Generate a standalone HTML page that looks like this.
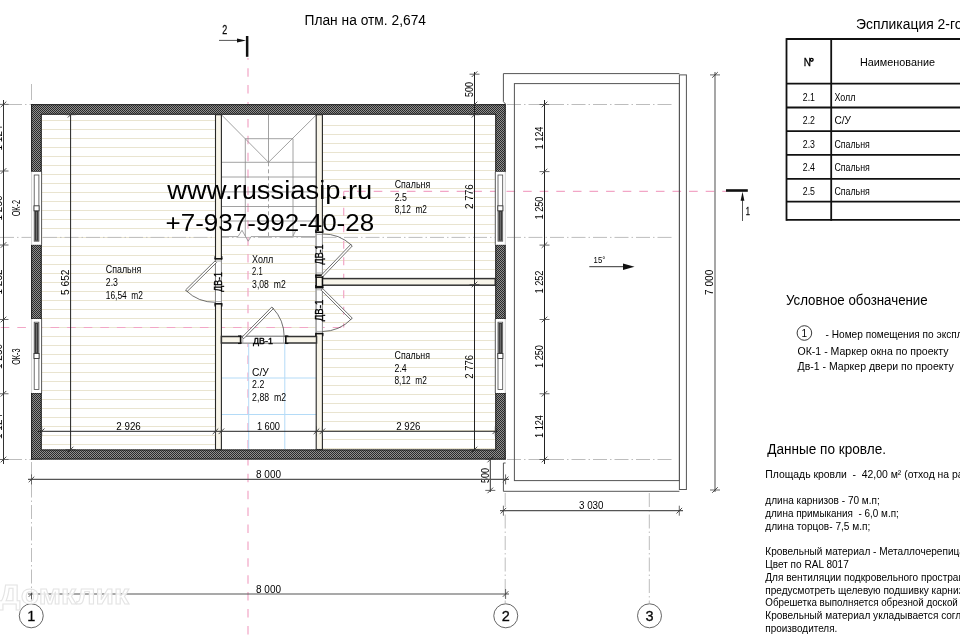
<!DOCTYPE html><html><head><meta charset="utf-8"><style>html,body{margin:0;padding:0;background:#fff;overflow:hidden}svg{display:block;will-change:transform}text{font-family:"Liberation Sans",sans-serif;white-space:pre}</style></head><body>
<svg width="960" height="640" viewBox="0 0 960 640" fill="#000">
<defs><pattern id="hatch" x="0" y="0" width="2" height="2" patternUnits="userSpaceOnUse"><rect width="2" height="2" fill="#8e8e8e"/><rect width="1" height="1" fill="#2a2a2a"/><rect x="1" y="1" width="1" height="1" fill="#2a2a2a"/></pattern></defs>
<rect width="960" height="640" fill="#fff"/>
<line x1="41.7" y1="120.5" x2="215.5" y2="120.5" stroke="#e9e4d0" stroke-width="1"/>
<line x1="41.7" y1="129.5" x2="215.5" y2="129.5" stroke="#e9e4d0" stroke-width="1"/>
<line x1="41.7" y1="138.5" x2="215.5" y2="138.5" stroke="#e9e4d0" stroke-width="1"/>
<line x1="41.7" y1="147.5" x2="215.5" y2="147.5" stroke="#e9e4d0" stroke-width="1"/>
<line x1="41.7" y1="156.5" x2="215.5" y2="156.5" stroke="#e9e4d0" stroke-width="1"/>
<line x1="41.7" y1="165.5" x2="215.5" y2="165.5" stroke="#e9e4d0" stroke-width="1"/>
<line x1="41.7" y1="174.5" x2="215.5" y2="174.5" stroke="#e9e4d0" stroke-width="1"/>
<line x1="41.7" y1="183.5" x2="215.5" y2="183.5" stroke="#e9e4d0" stroke-width="1"/>
<line x1="41.7" y1="192.5" x2="215.5" y2="192.5" stroke="#e9e4d0" stroke-width="1"/>
<line x1="41.7" y1="201.5" x2="215.5" y2="201.5" stroke="#e9e4d0" stroke-width="1"/>
<line x1="41.7" y1="210.5" x2="215.5" y2="210.5" stroke="#e9e4d0" stroke-width="1"/>
<line x1="41.7" y1="219.5" x2="215.5" y2="219.5" stroke="#e9e4d0" stroke-width="1"/>
<line x1="41.7" y1="228.5" x2="215.5" y2="228.5" stroke="#e9e4d0" stroke-width="1"/>
<line x1="41.7" y1="237.5" x2="215.5" y2="237.5" stroke="#e9e4d0" stroke-width="1"/>
<line x1="41.7" y1="246.5" x2="215.5" y2="246.5" stroke="#e9e4d0" stroke-width="1"/>
<line x1="41.7" y1="255.5" x2="215.5" y2="255.5" stroke="#e9e4d0" stroke-width="1"/>
<line x1="41.7" y1="264.5" x2="215.5" y2="264.5" stroke="#e9e4d0" stroke-width="1"/>
<line x1="41.7" y1="273.5" x2="215.5" y2="273.5" stroke="#e9e4d0" stroke-width="1"/>
<line x1="41.7" y1="282.5" x2="215.5" y2="282.5" stroke="#e9e4d0" stroke-width="1"/>
<line x1="41.7" y1="291.5" x2="215.5" y2="291.5" stroke="#e9e4d0" stroke-width="1"/>
<line x1="41.7" y1="300.5" x2="215.5" y2="300.5" stroke="#e9e4d0" stroke-width="1"/>
<line x1="41.7" y1="309.5" x2="215.5" y2="309.5" stroke="#e9e4d0" stroke-width="1"/>
<line x1="41.7" y1="318.5" x2="215.5" y2="318.5" stroke="#e9e4d0" stroke-width="1"/>
<line x1="41.7" y1="327.5" x2="215.5" y2="327.5" stroke="#e9e4d0" stroke-width="1"/>
<line x1="41.7" y1="336.5" x2="215.5" y2="336.5" stroke="#e9e4d0" stroke-width="1"/>
<line x1="41.7" y1="345.5" x2="215.5" y2="345.5" stroke="#e9e4d0" stroke-width="1"/>
<line x1="41.7" y1="354.5" x2="215.5" y2="354.5" stroke="#e9e4d0" stroke-width="1"/>
<line x1="41.7" y1="363.5" x2="215.5" y2="363.5" stroke="#e9e4d0" stroke-width="1"/>
<line x1="41.7" y1="372.5" x2="215.5" y2="372.5" stroke="#e9e4d0" stroke-width="1"/>
<line x1="41.7" y1="381.5" x2="215.5" y2="381.5" stroke="#e9e4d0" stroke-width="1"/>
<line x1="41.7" y1="390.5" x2="215.5" y2="390.5" stroke="#e9e4d0" stroke-width="1"/>
<line x1="41.7" y1="399.5" x2="215.5" y2="399.5" stroke="#e9e4d0" stroke-width="1"/>
<line x1="41.7" y1="408.5" x2="215.5" y2="408.5" stroke="#e9e4d0" stroke-width="1"/>
<line x1="41.7" y1="417.5" x2="215.5" y2="417.5" stroke="#e9e4d0" stroke-width="1"/>
<line x1="41.7" y1="426.5" x2="215.5" y2="426.5" stroke="#e9e4d0" stroke-width="1"/>
<line x1="41.7" y1="435.5" x2="215.5" y2="435.5" stroke="#e9e4d0" stroke-width="1"/>
<line x1="41.7" y1="444.5" x2="215.5" y2="444.5" stroke="#e9e4d0" stroke-width="1"/>
<line x1="221.4" y1="245.5" x2="316.2" y2="245.5" stroke="#e9e4d0" stroke-width="1"/>
<line x1="221.4" y1="254.5" x2="316.2" y2="254.5" stroke="#e9e4d0" stroke-width="1"/>
<line x1="221.4" y1="263.5" x2="316.2" y2="263.5" stroke="#e9e4d0" stroke-width="1"/>
<line x1="221.4" y1="273.5" x2="316.2" y2="273.5" stroke="#e9e4d0" stroke-width="1"/>
<line x1="221.4" y1="282.5" x2="316.2" y2="282.5" stroke="#e9e4d0" stroke-width="1"/>
<line x1="221.4" y1="291.5" x2="316.2" y2="291.5" stroke="#e9e4d0" stroke-width="1"/>
<line x1="221.4" y1="300.5" x2="316.2" y2="300.5" stroke="#e9e4d0" stroke-width="1"/>
<line x1="221.4" y1="309.5" x2="316.2" y2="309.5" stroke="#e9e4d0" stroke-width="1"/>
<line x1="221.4" y1="318.5" x2="316.2" y2="318.5" stroke="#e9e4d0" stroke-width="1"/>
<line x1="221.4" y1="327.5" x2="316.2" y2="327.5" stroke="#e9e4d0" stroke-width="1"/>
<line x1="221.4" y1="336.5" x2="316.2" y2="336.5" stroke="#e9e4d0" stroke-width="1"/>
<line x1="322.4" y1="125.5" x2="495.3" y2="125.5" stroke="#e9e4d0" stroke-width="1"/>
<line x1="322.4" y1="134.5" x2="495.3" y2="134.5" stroke="#e9e4d0" stroke-width="1"/>
<line x1="322.4" y1="143.5" x2="495.3" y2="143.5" stroke="#e9e4d0" stroke-width="1"/>
<line x1="322.4" y1="152.5" x2="495.3" y2="152.5" stroke="#e9e4d0" stroke-width="1"/>
<line x1="322.4" y1="161.5" x2="495.3" y2="161.5" stroke="#e9e4d0" stroke-width="1"/>
<line x1="322.4" y1="170.5" x2="495.3" y2="170.5" stroke="#e9e4d0" stroke-width="1"/>
<line x1="322.4" y1="179.5" x2="495.3" y2="179.5" stroke="#e9e4d0" stroke-width="1"/>
<line x1="322.4" y1="188.5" x2="495.3" y2="188.5" stroke="#e9e4d0" stroke-width="1"/>
<line x1="322.4" y1="197.5" x2="495.3" y2="197.5" stroke="#e9e4d0" stroke-width="1"/>
<line x1="322.4" y1="206.5" x2="495.3" y2="206.5" stroke="#e9e4d0" stroke-width="1"/>
<line x1="322.4" y1="215.5" x2="495.3" y2="215.5" stroke="#e9e4d0" stroke-width="1"/>
<line x1="322.4" y1="224.5" x2="495.3" y2="224.5" stroke="#e9e4d0" stroke-width="1"/>
<line x1="322.4" y1="233.5" x2="495.3" y2="233.5" stroke="#e9e4d0" stroke-width="1"/>
<line x1="322.4" y1="242.5" x2="495.3" y2="242.5" stroke="#e9e4d0" stroke-width="1"/>
<line x1="322.4" y1="251.5" x2="495.3" y2="251.5" stroke="#e9e4d0" stroke-width="1"/>
<line x1="322.4" y1="260.5" x2="495.3" y2="260.5" stroke="#e9e4d0" stroke-width="1"/>
<line x1="322.4" y1="269.5" x2="495.3" y2="269.5" stroke="#e9e4d0" stroke-width="1"/>
<line x1="322.4" y1="295.5" x2="495.3" y2="295.5" stroke="#e9e4d0" stroke-width="1"/>
<line x1="322.4" y1="304.5" x2="495.3" y2="304.5" stroke="#e9e4d0" stroke-width="1"/>
<line x1="322.4" y1="313.5" x2="495.3" y2="313.5" stroke="#e9e4d0" stroke-width="1"/>
<line x1="322.4" y1="322.5" x2="495.3" y2="322.5" stroke="#e9e4d0" stroke-width="1"/>
<line x1="322.4" y1="331.5" x2="495.3" y2="331.5" stroke="#e9e4d0" stroke-width="1"/>
<line x1="322.4" y1="340.5" x2="495.3" y2="340.5" stroke="#e9e4d0" stroke-width="1"/>
<line x1="322.4" y1="349.5" x2="495.3" y2="349.5" stroke="#e9e4d0" stroke-width="1"/>
<line x1="322.4" y1="358.5" x2="495.3" y2="358.5" stroke="#e9e4d0" stroke-width="1"/>
<line x1="322.4" y1="367.5" x2="495.3" y2="367.5" stroke="#e9e4d0" stroke-width="1"/>
<line x1="322.4" y1="376.5" x2="495.3" y2="376.5" stroke="#e9e4d0" stroke-width="1"/>
<line x1="322.4" y1="385.5" x2="495.3" y2="385.5" stroke="#e9e4d0" stroke-width="1"/>
<line x1="322.4" y1="394.5" x2="495.3" y2="394.5" stroke="#e9e4d0" stroke-width="1"/>
<line x1="322.4" y1="403.5" x2="495.3" y2="403.5" stroke="#e9e4d0" stroke-width="1"/>
<line x1="322.4" y1="412.5" x2="495.3" y2="412.5" stroke="#e9e4d0" stroke-width="1"/>
<line x1="322.4" y1="421.5" x2="495.3" y2="421.5" stroke="#e9e4d0" stroke-width="1"/>
<line x1="322.4" y1="430.5" x2="495.3" y2="430.5" stroke="#e9e4d0" stroke-width="1"/>
<line x1="322.4" y1="439.5" x2="495.3" y2="439.5" stroke="#e9e4d0" stroke-width="1"/>
<line x1="322.4" y1="448.5" x2="495.3" y2="448.5" stroke="#e9e4d0" stroke-width="1"/>
<rect x="221.4" y="114.7" width="95.1" height="121.7" fill="#fff" stroke="none" stroke-width="1" />
<rect x="221.4" y="343" width="95.1" height="106.5" fill="#fff" stroke="none" stroke-width="1" />
<line x1="0" y1="237.4" x2="500" y2="237.4" stroke="#bdbdbd" stroke-width="1" stroke-dasharray="14 3 1.5 3"/>
<line x1="507" y1="237.4" x2="673" y2="237.4" stroke="#bdbdbd" stroke-width="1" stroke-dasharray="14 3 1.5 3"/>
<line x1="8" y1="104.5" x2="31" y2="104.5" stroke="#bdbdbd" stroke-width="1" stroke-dasharray="14 3 1.5 3"/>
<line x1="507" y1="104.5" x2="673" y2="104.5" stroke="#bdbdbd" stroke-width="1" stroke-dasharray="14 3 1.5 3"/>
<line x1="8" y1="459.5" x2="31" y2="459.5" stroke="#bdbdbd" stroke-width="1" stroke-dasharray="14 3 1.5 3"/>
<line x1="507" y1="459.5" x2="673" y2="459.5" stroke="#bdbdbd" stroke-width="1" stroke-dasharray="14 3 1.5 3"/>
<line x1="31.5" y1="84" x2="31.5" y2="100" stroke="#bdbdbd" stroke-width="1" />
<line x1="31.5" y1="462" x2="31.5" y2="603" stroke="#bdbdbd" stroke-width="1" stroke-dasharray="14 3 1.5 3"/>
<line x1="505.2" y1="493" x2="505.2" y2="603" stroke="#bdbdbd" stroke-width="1" stroke-dasharray="14 3 1.5 3"/>
<line x1="649.3" y1="493" x2="649.3" y2="603" stroke="#bdbdbd" stroke-width="1" stroke-dasharray="14 3 1.5 3"/>
<line x1="248" y1="58" x2="248" y2="640" stroke="#f2a6c6" stroke-width="1.2" stroke-dasharray="8.5 8.4" stroke-dashoffset="6.7"/>
<line x1="0" y1="327.5" x2="344" y2="327.5" stroke="#f2a6c6" stroke-width="1.2" stroke-dasharray="8.6 8" stroke-dashoffset="15.9"/>
<line x1="343.7" y1="191.3" x2="343.7" y2="327.5" stroke="#f2a6c6" stroke-width="1.2" stroke-dasharray="8 8.5"/>
<line x1="344" y1="191.3" x2="726" y2="191.3" stroke="#f2a6c6" stroke-width="1.2" stroke-dasharray="8.6 8" stroke-dashoffset="3.5"/>
<line x1="221.4" y1="114.7" x2="268.5" y2="162.3" stroke="#8a8a8a" stroke-width="0.8" />
<line x1="316.5" y1="114.7" x2="268.5" y2="162.3" stroke="#8a8a8a" stroke-width="0.8" />
<line x1="268.5" y1="114.7" x2="268.5" y2="162.3" stroke="#8a8a8a" stroke-width="0.8" />
<line x1="245.3" y1="138.7" x2="293" y2="138.7" stroke="#8a8a8a" stroke-width="0.8" />
<line x1="245.3" y1="138.7" x2="245.3" y2="236" stroke="#8a8a8a" stroke-width="0.8" />
<line x1="293" y1="138.7" x2="293" y2="236" stroke="#8a8a8a" stroke-width="0.8" />
<line x1="268.5" y1="162.3" x2="268.5" y2="236" stroke="#8a8a8a" stroke-width="0.8" stroke-dasharray="4 3"/>
<line x1="221.4" y1="162.3" x2="316.5" y2="162.3" stroke="#8a8a8a" stroke-width="0.8" />
<line x1="221.4" y1="177" x2="316.5" y2="177" stroke="#8a8a8a" stroke-width="0.8" />
<line x1="221.4" y1="191.9" x2="316.5" y2="191.9" stroke="#8a8a8a" stroke-width="0.8" />
<line x1="221.4" y1="206.5" x2="316.5" y2="206.5" stroke="#8a8a8a" stroke-width="0.8" />
<line x1="221.4" y1="221" x2="316.5" y2="221" stroke="#8a8a8a" stroke-width="0.8" />
<path d="M221.4 236.6 L238 236.6 L242 230.3 L248.2 241.2 L251 236.6 L316.2 236.6" fill="none" stroke="#8a8a8a" stroke-width="0.8"/>
<path d="M290.3 230.5 L295.7 230.5 L293 236" fill="none" stroke="#8a8a8a" stroke-width="0.8"/>
<line x1="248.7" y1="343" x2="248.7" y2="449.5" stroke="#b4dbf7" stroke-width="1" />
<line x1="284.8" y1="343" x2="284.8" y2="449.5" stroke="#b4dbf7" stroke-width="1" />
<line x1="221.4" y1="378" x2="316.5" y2="378" stroke="#b4dbf7" stroke-width="1" />
<line x1="221.4" y1="414.5" x2="316.5" y2="414.5" stroke="#b4dbf7" stroke-width="1" />
<rect x="215.5" y="114.7" width="5.9" height="334.8" fill="#f8f5ea" stroke="#262626" stroke-width="1.1" />
<rect x="316.2" y="114.7" width="6.2" height="334.8" fill="#f8f5ea" stroke="#262626" stroke-width="1.1" />
<rect x="322.4" y="278.6" width="172.9" height="6.6" fill="#f8f5ea" stroke="#333" stroke-width="1.5" />
<rect x="221.4" y="336.5" width="95.1" height="6.5" fill="#f8f5ea" stroke="#333" stroke-width="1.5" />
<rect x="31.1" y="104.2" width="474.5" height="10.5" fill="url(#hatch)" stroke="none" stroke-width="1" />
<rect x="31.1" y="449.5" width="474.5" height="10" fill="url(#hatch)" stroke="none" stroke-width="1" />
<rect x="31.1" y="104.2" width="10.6" height="67.8" fill="url(#hatch)" stroke="none" stroke-width="1" />
<rect x="495.3" y="104.2" width="10.3" height="67.8" fill="url(#hatch)" stroke="none" stroke-width="1" />
<rect x="31.1" y="244.8" width="10.6" height="74.19999999999999" fill="url(#hatch)" stroke="none" stroke-width="1" />
<rect x="495.3" y="244.8" width="10.3" height="74.19999999999999" fill="url(#hatch)" stroke="none" stroke-width="1" />
<rect x="31.1" y="393" width="10.6" height="66.5" fill="url(#hatch)" stroke="none" stroke-width="1" />
<rect x="495.3" y="393" width="10.3" height="66.5" fill="url(#hatch)" stroke="none" stroke-width="1" />
<line x1="31.1" y1="104.7" x2="505.6" y2="104.7" stroke="#1e1e1e" stroke-width="1" />
<line x1="31.1" y1="459.0" x2="505.6" y2="459.0" stroke="#1e1e1e" stroke-width="1" />
<line x1="41.2" y1="114.2" x2="495.8" y2="114.2" stroke="#1e1e1e" stroke-width="1" />
<line x1="41.2" y1="450.0" x2="495.8" y2="450.0" stroke="#1e1e1e" stroke-width="1" />
<line x1="31.6" y1="104.2" x2="31.6" y2="171.8" stroke="#1e1e1e" stroke-width="1" />
<line x1="41.2" y1="114.2" x2="41.2" y2="171.8" stroke="#1e1e1e" stroke-width="1" />
<line x1="505.1" y1="104.2" x2="505.1" y2="171.8" stroke="#1e1e1e" stroke-width="1" />
<line x1="495.8" y1="114.2" x2="495.8" y2="171.8" stroke="#1e1e1e" stroke-width="1" />
<line x1="31.6" y1="244.8" x2="31.6" y2="319" stroke="#1e1e1e" stroke-width="1" />
<line x1="41.2" y1="244.8" x2="41.2" y2="319" stroke="#1e1e1e" stroke-width="1" />
<line x1="505.1" y1="244.8" x2="505.1" y2="319" stroke="#1e1e1e" stroke-width="1" />
<line x1="495.8" y1="244.8" x2="495.8" y2="319" stroke="#1e1e1e" stroke-width="1" />
<line x1="31.6" y1="393" x2="31.6" y2="459.5" stroke="#1e1e1e" stroke-width="1" />
<line x1="41.2" y1="393" x2="41.2" y2="450" stroke="#1e1e1e" stroke-width="1" />
<line x1="505.1" y1="393" x2="505.1" y2="459.5" stroke="#1e1e1e" stroke-width="1" />
<line x1="495.8" y1="393" x2="495.8" y2="450" stroke="#1e1e1e" stroke-width="1" />
<line x1="31.1" y1="171.8" x2="41.7" y2="171.8" stroke="#1e1e1e" stroke-width="1" />
<line x1="495.3" y1="171.8" x2="505.6" y2="171.8" stroke="#1e1e1e" stroke-width="1" />
<line x1="31.1" y1="244.8" x2="41.7" y2="244.8" stroke="#1e1e1e" stroke-width="1" />
<line x1="495.3" y1="244.8" x2="505.6" y2="244.8" stroke="#1e1e1e" stroke-width="1" />
<line x1="31.1" y1="319" x2="41.7" y2="319" stroke="#1e1e1e" stroke-width="1" />
<line x1="495.3" y1="319" x2="505.6" y2="319" stroke="#1e1e1e" stroke-width="1" />
<line x1="31.1" y1="393" x2="41.7" y2="393" stroke="#1e1e1e" stroke-width="1" />
<line x1="495.3" y1="393" x2="505.6" y2="393" stroke="#1e1e1e" stroke-width="1" />
<rect x="31.3" y="171.8" width="10.3" height="73.0" fill="#fff" stroke="none" stroke-width="1" />
<line x1="31.6" y1="171.8" x2="31.6" y2="244.8" stroke="#c4c4c4" stroke-width="0.8" />
<line x1="41.6" y1="171.8" x2="41.6" y2="244.8" stroke="#555" stroke-width="1" />
<rect x="34.2" y="175.0" width="4.699999999999996" height="66.2" fill="none" stroke="#4a4a4a" stroke-width="0.8" />
<rect x="34.6" y="210.8" width="3.899999999999996" height="30.0" fill="#3a3a3a" stroke="none" stroke-width="1" />
<line x1="36.55" y1="211.8" x2="36.55" y2="239.8" stroke="#8a8a8a" stroke-width="0.7" />
<rect x="34.0" y="205.8" width="5.099999999999996" height="5" fill="#fff" stroke="#333" stroke-width="0.9" />
<rect x="31.3" y="319" width="10.3" height="74" fill="#fff" stroke="none" stroke-width="1" />
<line x1="31.6" y1="319" x2="31.6" y2="393" stroke="#c4c4c4" stroke-width="0.8" />
<line x1="41.6" y1="319" x2="41.6" y2="393" stroke="#555" stroke-width="1" />
<rect x="34.2" y="322.2" width="4.699999999999996" height="67.2" fill="none" stroke="#4a4a4a" stroke-width="0.8" />
<rect x="34.6" y="323" width="3.899999999999996" height="30.5" fill="#3a3a3a" stroke="none" stroke-width="1" />
<line x1="36.55" y1="324" x2="36.55" y2="352.5" stroke="#8a8a8a" stroke-width="0.7" />
<rect x="34.0" y="353.5" width="5.099999999999996" height="5" fill="#fff" stroke="#333" stroke-width="0.9" />
<rect x="495.3" y="171.8" width="10.300000000000011" height="73.0" fill="#fff" stroke="none" stroke-width="1" />
<line x1="505.3" y1="171.8" x2="505.3" y2="244.8" stroke="#c4c4c4" stroke-width="0.8" />
<line x1="495.3" y1="171.8" x2="495.3" y2="244.8" stroke="#555" stroke-width="1" />
<rect x="498.0" y="175.0" width="4.7000000000000455" height="66.2" fill="none" stroke="#4a4a4a" stroke-width="0.8" />
<rect x="498.4" y="210.8" width="3.9000000000000457" height="30.0" fill="#3a3a3a" stroke="none" stroke-width="1" />
<line x1="500.35" y1="211.8" x2="500.35" y2="239.8" stroke="#8a8a8a" stroke-width="0.7" />
<rect x="497.8" y="205.8" width="5.100000000000046" height="5" fill="#fff" stroke="#333" stroke-width="0.9" />
<rect x="495.3" y="319" width="10.300000000000011" height="74" fill="#fff" stroke="none" stroke-width="1" />
<line x1="505.3" y1="319" x2="505.3" y2="393" stroke="#c4c4c4" stroke-width="0.8" />
<line x1="495.3" y1="319" x2="495.3" y2="393" stroke="#555" stroke-width="1" />
<rect x="498.0" y="322.2" width="4.7000000000000455" height="67.2" fill="none" stroke="#4a4a4a" stroke-width="0.8" />
<rect x="498.4" y="323" width="3.9000000000000457" height="30.5" fill="#3a3a3a" stroke="none" stroke-width="1" />
<line x1="500.35" y1="324" x2="500.35" y2="352.5" stroke="#8a8a8a" stroke-width="0.7" />
<rect x="497.8" y="353.5" width="5.100000000000046" height="5" fill="#fff" stroke="#333" stroke-width="0.9" />
<rect x="214.9" y="259.8" width="7.1" height="43.2" fill="#fff" stroke="none" stroke-width="1" />
<line x1="215.5" y1="259.8" x2="215.5" y2="303" stroke="#777" stroke-width="0.9" />
<line x1="221.4" y1="259.8" x2="221.4" y2="303" stroke="#777" stroke-width="0.9" />
<rect x="214.6" y="258.0" width="7.7000000000000055" height="1.6" fill="#111" stroke="none" stroke-width="1" />
<line x1="215.0" y1="256.2" x2="215.0" y2="259.2" stroke="#111" stroke-width="1.1" />
<line x1="221.9" y1="256.2" x2="221.9" y2="259.2" stroke="#111" stroke-width="1.1" />
<line x1="215.5" y1="261.0" x2="221.4" y2="261.0" stroke="#9a9a9a" stroke-width="0.8" />
<rect x="214.6" y="303.0" width="7.7000000000000055" height="1.6" fill="#111" stroke="none" stroke-width="1" />
<line x1="215.0" y1="306.40000000000003" x2="215.0" y2="303.40000000000003" stroke="#111" stroke-width="1.1" />
<line x1="221.9" y1="306.40000000000003" x2="221.9" y2="303.40000000000003" stroke="#111" stroke-width="1.1" />
<line x1="215.5" y1="301.6" x2="221.4" y2="301.6" stroke="#9a9a9a" stroke-width="0.8" />
<path d="M215.03 260.92 L185.53 290.02 L187.07 291.58 L216.57 262.48 Z" fill="#fff" stroke="#333" stroke-width="0.7"/>
<path d="M186.3 290.8 A41.4 41.4 0 0 0 215.3 302.3" fill="none" stroke="#333" stroke-width="0.7"/>
<text x="221.9" y="291.8" font-size="10" textLength="19.6" lengthAdjust="spacingAndGlyphs" transform="rotate(-90 221.9 291.8)" stroke="#000" stroke-width="0.35">ДВ-1</text>
<rect x="315.6" y="233" width="7.4" height="41.3" fill="#fff" stroke="none" stroke-width="1" />
<line x1="316.2" y1="233" x2="316.2" y2="274.3" stroke="#888" stroke-width="1" />
<line x1="322.4" y1="233" x2="322.4" y2="274.3" stroke="#888" stroke-width="1" />
<rect x="315.3" y="231.39999999999998" width="7.9999999999999885" height="1.6" fill="#111" stroke="none" stroke-width="1" />
<line x1="315.7" y1="229.6" x2="315.7" y2="232.6" stroke="#111" stroke-width="1.1" />
<line x1="322.9" y1="229.6" x2="322.9" y2="232.6" stroke="#111" stroke-width="1.1" />
<line x1="316.2" y1="234.39999999999998" x2="322.4" y2="234.39999999999998" stroke="#9a9a9a" stroke-width="0.8" />
<rect x="315.3" y="274.4" width="7.9999999999999885" height="1.6" fill="#111" stroke="none" stroke-width="1" />
<line x1="315.7" y1="277.8" x2="315.7" y2="274.8" stroke="#111" stroke-width="1.1" />
<line x1="322.9" y1="277.8" x2="322.9" y2="274.8" stroke="#111" stroke-width="1.1" />
<line x1="316.2" y1="273.0" x2="322.4" y2="273.0" stroke="#9a9a9a" stroke-width="0.8" />
<path d="M322.79 276.76 L352.29 245.96 L350.71 244.44 L321.21 275.24 Z" fill="#fff" stroke="#333" stroke-width="0.7"/>
<path d="M351.5 245.2 A41.5 41.5 0 0 0 322.4 234" fill="none" stroke="#333" stroke-width="0.7"/>
<text x="323.2" y="264.4" font-size="10" textLength="20" lengthAdjust="spacingAndGlyphs" transform="rotate(-90 323.2 264.4)" stroke="#000" stroke-width="0.35">ДВ-1</text>
<rect x="316.2" y="277.2" width="6.2" height="9.4" fill="#f8f5ea" stroke="#111" stroke-width="1.4" />
<rect x="315.6" y="288" width="7.4" height="45" fill="#fff" stroke="none" stroke-width="1" />
<line x1="316.2" y1="288" x2="316.2" y2="333" stroke="#888" stroke-width="1" />
<line x1="322.4" y1="288" x2="322.4" y2="333" stroke="#888" stroke-width="1" />
<rect x="315.3" y="286.8" width="7.9999999999999885" height="1.6" fill="#111" stroke="none" stroke-width="1" />
<line x1="315.7" y1="285.0" x2="315.7" y2="288.0" stroke="#111" stroke-width="1.1" />
<line x1="322.9" y1="285.0" x2="322.9" y2="288.0" stroke="#111" stroke-width="1.1" />
<line x1="316.2" y1="289.8" x2="322.4" y2="289.8" stroke="#9a9a9a" stroke-width="0.8" />
<rect x="315.3" y="332.8" width="7.9999999999999885" height="1.6" fill="#111" stroke="none" stroke-width="1" />
<line x1="315.7" y1="336.20000000000005" x2="315.7" y2="333.20000000000005" stroke="#111" stroke-width="1.1" />
<line x1="322.9" y1="336.20000000000005" x2="322.9" y2="333.20000000000005" stroke="#111" stroke-width="1.1" />
<line x1="316.2" y1="331.40000000000003" x2="322.4" y2="331.40000000000003" stroke="#9a9a9a" stroke-width="0.8" />
<path d="M321.22 290.18 L350.72 319.68 L352.28 318.12 L322.78 288.62 Z" fill="#fff" stroke="#333" stroke-width="0.7"/>
<path d="M351.5 318.9 A41.6 41.6 0 0 1 322.4 331.5" fill="none" stroke="#333" stroke-width="0.7"/>
<text x="323.3" y="321.2" font-size="10" textLength="21.5" lengthAdjust="spacingAndGlyphs" transform="rotate(-90 323.3 321.2)" stroke="#000" stroke-width="0.35">ДВ-1</text>
<rect x="241.7" y="335.9" width="43" height="7.7" fill="#fff" stroke="none" stroke-width="1" />
<line x1="241.7" y1="336.5" x2="284.7" y2="336.5" stroke="#888" stroke-width="0.9" />
<line x1="241.7" y1="343" x2="284.7" y2="343" stroke="#888" stroke-width="0.9" />
<rect x="239.79999999999998" y="335.6" width="1.6" height="8.3" fill="#111" stroke="none" stroke-width="1" />
<line x1="238.0" y1="336.0" x2="241.0" y2="336.0" stroke="#111" stroke-width="1.1" />
<line x1="238.0" y1="343.5" x2="241.0" y2="343.5" stroke="#111" stroke-width="1.1" />
<line x1="242.79999999999998" y1="336.5" x2="242.79999999999998" y2="343" stroke="#9a9a9a" stroke-width="0.8" />
<rect x="285.0" y="335.6" width="1.6" height="8.3" fill="#111" stroke="none" stroke-width="1" />
<line x1="288.40000000000003" y1="336.0" x2="285.40000000000003" y2="336.0" stroke="#111" stroke-width="1.1" />
<line x1="288.40000000000003" y1="343.5" x2="285.40000000000003" y2="343.5" stroke="#111" stroke-width="1.1" />
<line x1="283.6" y1="336.5" x2="283.6" y2="343" stroke="#9a9a9a" stroke-width="0.8" />
<path d="M243.68 338.67 L273.38 308.57 L271.82 307.03 L242.12 337.13 Z" fill="#fff" stroke="#333" stroke-width="0.7"/>
<path d="M272.6 307.8 A42.3 42.3 0 0 1 284.2 337" fill="none" stroke="#333" stroke-width="0.7"/>
<text x="253" y="343.8" font-size="8.5" textLength="20" lengthAdjust="spacingAndGlyphs" stroke="#000" stroke-width="0.35">ДВ-1</text>
<line x1="3.5" y1="100" x2="3.5" y2="464" stroke="#333" stroke-width="1" />
<path d="M0.70 107.20 L6.30 101.60" stroke="#222" stroke-width="0.8"/>
<line x1="-1.5" y1="104.4" x2="8.5" y2="104.4" stroke="#444" stroke-width="0.8" />
<path d="M0.70 173.80 L6.30 168.20" stroke="#222" stroke-width="0.8"/>
<line x1="-1.5" y1="171" x2="8.5" y2="171" stroke="#444" stroke-width="0.8" />
<path d="M0.70 247.80 L6.30 242.20" stroke="#222" stroke-width="0.8"/>
<line x1="-1.5" y1="245" x2="8.5" y2="245" stroke="#444" stroke-width="0.8" />
<path d="M0.70 322.30 L6.30 316.70" stroke="#222" stroke-width="0.8"/>
<line x1="-1.5" y1="319.5" x2="8.5" y2="319.5" stroke="#444" stroke-width="0.8" />
<path d="M0.70 396.55 L6.30 390.95" stroke="#222" stroke-width="0.8"/>
<line x1="-1.5" y1="393.75" x2="8.5" y2="393.75" stroke="#444" stroke-width="0.8" />
<path d="M0.70 462.30 L6.30 456.70" stroke="#222" stroke-width="0.8"/>
<line x1="-1.5" y1="459.5" x2="8.5" y2="459.5" stroke="#444" stroke-width="0.8" />
<text x="1.8" y="150.5" font-size="10" textLength="25" lengthAdjust="spacingAndGlyphs" transform="rotate(-90 1.8 150.5)" >1 124</text>
<text x="1.8" y="220.5" font-size="10" textLength="25" lengthAdjust="spacingAndGlyphs" transform="rotate(-90 1.8 220.5)" >1 250</text>
<text x="1.8" y="294.5" font-size="10" textLength="25" lengthAdjust="spacingAndGlyphs" transform="rotate(-90 1.8 294.5)" >1 252</text>
<text x="1.8" y="369.0" font-size="10" textLength="25" lengthAdjust="spacingAndGlyphs" transform="rotate(-90 1.8 369.0)" >1 250</text>
<text x="1.8" y="439.0" font-size="10" textLength="25" lengthAdjust="spacingAndGlyphs" transform="rotate(-90 1.8 439.0)" >1 124</text>
<line x1="70.6" y1="114.7" x2="70.6" y2="449.5" stroke="#222" stroke-width="1" />
<path d="M67.80 117.50 L73.40 111.90" stroke="#222" stroke-width="0.8"/>
<line x1="65.6" y1="114.7" x2="75.6" y2="114.7" stroke="#444" stroke-width="0.8" />
<path d="M67.80 452.30 L73.40 446.70" stroke="#222" stroke-width="0.8"/>
<line x1="65.6" y1="449.5" x2="75.6" y2="449.5" stroke="#444" stroke-width="0.8" />
<text x="69" y="295" font-size="10" textLength="25.5" lengthAdjust="spacingAndGlyphs" transform="rotate(-90 69 295)" >5 652</text>
<line x1="474.5" y1="72" x2="474.5" y2="449.5" stroke="#222" stroke-width="1" />
<path d="M471.70 77.00 L477.30 71.40" stroke="#222" stroke-width="0.8"/>
<line x1="469.5" y1="74.2" x2="479.5" y2="74.2" stroke="#444" stroke-width="0.8" />
<path d="M471.70 107.30 L477.30 101.70" stroke="#222" stroke-width="0.8"/>
<line x1="469.5" y1="104.5" x2="479.5" y2="104.5" stroke="#444" stroke-width="0.8" />
<path d="M471.70 117.50 L477.30 111.90" stroke="#222" stroke-width="0.8"/>
<line x1="469.5" y1="114.7" x2="479.5" y2="114.7" stroke="#444" stroke-width="0.8" />
<path d="M471.70 287.30 L477.30 281.70" stroke="#222" stroke-width="0.8"/>
<line x1="469.5" y1="284.5" x2="479.5" y2="284.5" stroke="#444" stroke-width="0.8" />
<path d="M471.70 452.30 L477.30 446.70" stroke="#222" stroke-width="0.8"/>
<line x1="469.5" y1="449.5" x2="479.5" y2="449.5" stroke="#444" stroke-width="0.8" />
<text x="472.8" y="97" font-size="10" textLength="15" lengthAdjust="spacingAndGlyphs" transform="rotate(-90 472.8 97)" >500</text>
<text x="472.8" y="209" font-size="10" textLength="24.7" lengthAdjust="spacingAndGlyphs" transform="rotate(-90 472.8 209)" >2 776</text>
<text x="472.8" y="378.7" font-size="10" textLength="23.7" lengthAdjust="spacingAndGlyphs" transform="rotate(-90 472.8 378.7)" >2 776</text>
<line x1="490.3" y1="459.5" x2="490.3" y2="492" stroke="#333" stroke-width="1" />
<path d="M487.50 462.30 L493.10 456.70" stroke="#222" stroke-width="0.8"/>
<line x1="485.3" y1="459.5" x2="495.3" y2="459.5" stroke="#444" stroke-width="0.8" />
<path d="M487.50 493.20 L493.10 487.60" stroke="#222" stroke-width="0.8"/>
<line x1="485.3" y1="490.4" x2="495.3" y2="490.4" stroke="#444" stroke-width="0.8" />
<text x="488.5" y="483" font-size="10" textLength="15" lengthAdjust="spacingAndGlyphs" transform="rotate(-90 488.5 483)" >500</text>
<line x1="38" y1="431.3" x2="498" y2="431.3" stroke="#222" stroke-width="1" />
<path d="M38.90 434.10 L44.50 428.50" stroke="#222" stroke-width="0.8"/>
<line x1="41.7" y1="426.3" x2="41.7" y2="436.3" stroke="#444" stroke-width="0.8" />
<path d="M212.70 434.10 L218.30 428.50" stroke="#222" stroke-width="0.8"/>
<line x1="215.5" y1="426.3" x2="215.5" y2="436.3" stroke="#444" stroke-width="0.8" />
<path d="M218.60 434.10 L224.20 428.50" stroke="#222" stroke-width="0.8"/>
<line x1="221.4" y1="426.3" x2="221.4" y2="436.3" stroke="#444" stroke-width="0.8" />
<path d="M313.70 434.10 L319.30 428.50" stroke="#222" stroke-width="0.8"/>
<line x1="316.5" y1="426.3" x2="316.5" y2="436.3" stroke="#444" stroke-width="0.8" />
<path d="M319.60 434.10 L325.20 428.50" stroke="#222" stroke-width="0.8"/>
<line x1="322.4" y1="426.3" x2="322.4" y2="436.3" stroke="#444" stroke-width="0.8" />
<path d="M492.50 434.10 L498.10 428.50" stroke="#222" stroke-width="0.8"/>
<line x1="495.3" y1="426.3" x2="495.3" y2="436.3" stroke="#444" stroke-width="0.8" />
<text x="116.3" y="429.8" font-size="10" textLength="24.5" lengthAdjust="spacingAndGlyphs" >2 926</text>
<text x="256.9" y="429.8" font-size="10" textLength="23.1" lengthAdjust="spacingAndGlyphs" >1 600</text>
<text x="396.3" y="429.8" font-size="10" textLength="24.2" lengthAdjust="spacingAndGlyphs" >2 926</text>
<line x1="28" y1="479.4" x2="509" y2="479.4" stroke="#555" stroke-width="1.2" />
<path d="M28.70 482.20 L34.30 476.60" stroke="#222" stroke-width="0.8"/>
<line x1="31.5" y1="474.4" x2="31.5" y2="484.4" stroke="#444" stroke-width="0.8" />
<path d="M502.80 482.20 L508.40 476.60" stroke="#222" stroke-width="0.8"/>
<line x1="505.6" y1="474.4" x2="505.6" y2="484.4" stroke="#444" stroke-width="0.8" />
<text x="256" y="477.5" font-size="10" textLength="25" lengthAdjust="spacingAndGlyphs" >8 000</text>
<line x1="28" y1="594" x2="509" y2="594" stroke="#555" stroke-width="1.2" />
<path d="M28.70 596.80 L34.30 591.20" stroke="#222" stroke-width="0.8"/>
<line x1="31.5" y1="589" x2="31.5" y2="599" stroke="#444" stroke-width="0.8" />
<path d="M502.80 596.80 L508.40 591.20" stroke="#222" stroke-width="0.8"/>
<line x1="505.6" y1="589" x2="505.6" y2="599" stroke="#444" stroke-width="0.8" />
<text x="256" y="592.5" font-size="10" textLength="25" lengthAdjust="spacingAndGlyphs" >8 000</text>
<line x1="500" y1="510.7" x2="683" y2="510.7" stroke="#555" stroke-width="1.2" />
<path d="M500.60 513.50 L506.20 507.90" stroke="#222" stroke-width="0.8"/>
<line x1="503.4" y1="505.7" x2="503.4" y2="515.7" stroke="#444" stroke-width="0.8" />
<path d="M676.50 513.50 L682.10 507.90" stroke="#222" stroke-width="0.8"/>
<line x1="679.3" y1="505.7" x2="679.3" y2="515.7" stroke="#444" stroke-width="0.8" />
<text x="579" y="509" font-size="10" textLength="24.5" lengthAdjust="spacingAndGlyphs" >3 030</text>
<path d="M505.6 104.2 L503.4 101.6 L503.4 73.6 L679.4 73.6" fill="none" stroke="#555" stroke-width="1"/>
<path d="M505.6 463 L503.4 463 L503.4 491.3 L679.4 491.3" fill="none" stroke="#555" stroke-width="1"/>
<rect x="514.4" y="83.6" width="165" height="397" fill="none" stroke="#555" stroke-width="1" />
<rect x="679.4" y="74.9" width="7" height="414.6" fill="none" stroke="#555" stroke-width="1" />
<line x1="544.5" y1="100" x2="544.5" y2="464" stroke="#222" stroke-width="1" />
<path d="M541.70 107.30 L547.30 101.70" stroke="#222" stroke-width="0.8"/>
<line x1="539.5" y1="104.5" x2="549.5" y2="104.5" stroke="#444" stroke-width="0.8" />
<path d="M541.70 174.40 L547.30 168.80" stroke="#222" stroke-width="0.8"/>
<line x1="539.5" y1="171.6" x2="549.5" y2="171.6" stroke="#444" stroke-width="0.8" />
<path d="M541.70 247.90 L547.30 242.30" stroke="#222" stroke-width="0.8"/>
<line x1="539.5" y1="245.1" x2="549.5" y2="245.1" stroke="#444" stroke-width="0.8" />
<path d="M541.70 322.30 L547.30 316.70" stroke="#222" stroke-width="0.8"/>
<line x1="539.5" y1="319.5" x2="549.5" y2="319.5" stroke="#444" stroke-width="0.8" />
<path d="M541.70 396.55 L547.30 390.95" stroke="#222" stroke-width="0.8"/>
<line x1="539.5" y1="393.75" x2="549.5" y2="393.75" stroke="#444" stroke-width="0.8" />
<path d="M541.70 462.30 L547.30 456.70" stroke="#222" stroke-width="0.8"/>
<line x1="539.5" y1="459.5" x2="549.5" y2="459.5" stroke="#444" stroke-width="0.8" />
<text x="543.2" y="149.5" font-size="10" textLength="23" lengthAdjust="spacingAndGlyphs" transform="rotate(-90 543.2 149.5)" >1 124</text>
<text x="543.2" y="219.5" font-size="10" textLength="23" lengthAdjust="spacingAndGlyphs" transform="rotate(-90 543.2 219.5)" >1 250</text>
<text x="543.2" y="293.5" font-size="10" textLength="23" lengthAdjust="spacingAndGlyphs" transform="rotate(-90 543.2 293.5)" >1 252</text>
<text x="543.2" y="368.0" font-size="10" textLength="23" lengthAdjust="spacingAndGlyphs" transform="rotate(-90 543.2 368.0)" >1 250</text>
<text x="543.2" y="438.0" font-size="10" textLength="23" lengthAdjust="spacingAndGlyphs" transform="rotate(-90 543.2 438.0)" >1 124</text>
<line x1="715" y1="72" x2="715" y2="492" stroke="#777" stroke-width="1.3" />
<path d="M712.20 77.70 L717.80 72.10" stroke="#222" stroke-width="0.8"/>
<line x1="710" y1="74.9" x2="720" y2="74.9" stroke="#444" stroke-width="0.8" />
<path d="M712.20 492.80 L717.80 487.20" stroke="#222" stroke-width="0.8"/>
<line x1="710" y1="490" x2="720" y2="490" stroke="#444" stroke-width="0.8" />
<text x="713.4" y="295" font-size="10" textLength="25.3" lengthAdjust="spacingAndGlyphs" transform="rotate(-90 713.4 295)" >7 000</text>
<line x1="589.3" y1="266.7" x2="625" y2="266.7" stroke="#333" stroke-width="1" />
<path d="M623 263.4 L634.5 266.7 L623 270 Z" fill="#111"/>
<text x="593.6" y="263.3" font-size="8.5" textLength="11.7" lengthAdjust="spacingAndGlyphs" >15°</text>
<text x="222.3" y="33.75" font-size="12" textLength="5" lengthAdjust="spacingAndGlyphs" stroke="#1a1a1a" stroke-width="0.3">2</text>
<line x1="219" y1="40.4" x2="240" y2="40.4" stroke="#555" stroke-width="1" />
<path d="M237 38.4 L246 40.4 L237 42.4 Z" fill="#111"/>
<rect x="245.9" y="36" width="2.5" height="20.8" fill="#111" stroke="none" stroke-width="1" />
<rect x="726" y="189.2" width="21.8" height="2.6" fill="#111" stroke="none" stroke-width="1" />
<line x1="742.5" y1="198" x2="742.5" y2="221" stroke="#555" stroke-width="1" />
<path d="M740.6 200.7 L742.5 191.7 L744.4 200.7 Z" fill="#111"/>
<text x="745.8" y="215.2" font-size="11.5" textLength="4.2" lengthAdjust="spacingAndGlyphs" stroke="#1a1a1a" stroke-width="0.3">1</text>
<circle cx="31.25" cy="615.8" r="12" fill="#fff" stroke="#555" stroke-width="0.9"/>
<text x="31.25" y="621" font-size="14.5" text-anchor="middle" stroke="#1a1a1a" stroke-width="0.3">1</text>
<circle cx="505.75" cy="615.8" r="12" fill="#fff" stroke="#555" stroke-width="0.9"/>
<text x="505.75" y="621" font-size="14.5" text-anchor="middle" stroke="#1a1a1a" stroke-width="0.3">2</text>
<circle cx="649.5" cy="615.8" r="12" fill="#fff" stroke="#555" stroke-width="0.9"/>
<text x="649.5" y="621" font-size="14.5" text-anchor="middle" stroke="#1a1a1a" stroke-width="0.3">3</text>
<text x="105.8" y="273.2" font-size="10" textLength="35.6" lengthAdjust="spacingAndGlyphs" >Спальня</text>
<text x="105.8" y="285.95" font-size="10" textLength="12.2" lengthAdjust="spacingAndGlyphs" >2.3</text>
<text x="105.8" y="298.7" font-size="10" textLength="37.2" lengthAdjust="spacingAndGlyphs" >16,54  m2</text>
<text x="252.1" y="262.5" font-size="10" textLength="21.1" lengthAdjust="spacingAndGlyphs" >Холл</text>
<text x="252.1" y="275.25" font-size="10" textLength="10.5" lengthAdjust="spacingAndGlyphs" >2.1</text>
<text x="252.1" y="288.0" font-size="10" textLength="33.6" lengthAdjust="spacingAndGlyphs" >3,08  m2</text>
<text x="252.1" y="375.6" font-size="10" textLength="16.8" lengthAdjust="spacingAndGlyphs" >С/У</text>
<text x="252.1" y="388.35" font-size="10" textLength="12.2" lengthAdjust="spacingAndGlyphs" >2.2</text>
<text x="252.1" y="401.1" font-size="10" textLength="34" lengthAdjust="spacingAndGlyphs" >2,88  m2</text>
<text x="394.7" y="187.8" font-size="10" textLength="35.5" lengthAdjust="spacingAndGlyphs" >Спальня</text>
<text x="394.7" y="200.55" font-size="10" textLength="12.2" lengthAdjust="spacingAndGlyphs" >2.5</text>
<text x="394.7" y="213.3" font-size="10" textLength="32.3" lengthAdjust="spacingAndGlyphs" >8,12  m2</text>
<text x="394.5" y="358.75" font-size="10" textLength="35.5" lengthAdjust="spacingAndGlyphs" >Спальня</text>
<text x="394.5" y="371.5" font-size="10" textLength="12.2" lengthAdjust="spacingAndGlyphs" >2.4</text>
<text x="394.5" y="384.25" font-size="10" textLength="32.3" lengthAdjust="spacingAndGlyphs" >8,12  m2</text>
<text x="20.4" y="216.3" font-size="10" textLength="16.3" lengthAdjust="spacingAndGlyphs" transform="rotate(-90 20.4 216.3)" >ОК-2</text>
<text x="20.3" y="364.8" font-size="10" textLength="16.4" lengthAdjust="spacingAndGlyphs" transform="rotate(-90 20.3 364.8)" >ОК-3</text>
<text x="304.5" y="25" font-size="14" textLength="121.5" lengthAdjust="spacingAndGlyphs" >План на отм. 2,674</text>
<text x="856" y="29.3" font-size="14" textLength="148" lengthAdjust="spacingAndGlyphs" >Эспликация 2-го этажа</text>
<text x="167.3" y="199.3" font-size="25.5" textLength="205" lengthAdjust="spacingAndGlyphs" >www.russiasip.ru</text>
<text x="165.6" y="231.3" font-size="24.5" textLength="208.5" lengthAdjust="spacingAndGlyphs" >+7-937-992-40-28</text>
<line x1="786.5" y1="39" x2="960" y2="39" stroke="#111" stroke-width="1.8" />
<line x1="786.5" y1="83.6" x2="960" y2="83.6" stroke="#111" stroke-width="1.8" />
<line x1="786.5" y1="107.5" x2="960" y2="107.5" stroke="#111" stroke-width="1.8" />
<line x1="786.5" y1="131.1" x2="960" y2="131.1" stroke="#111" stroke-width="1.8" />
<line x1="786.5" y1="154.9" x2="960" y2="154.9" stroke="#111" stroke-width="1.8" />
<line x1="786.5" y1="178.8" x2="960" y2="178.8" stroke="#111" stroke-width="1.8" />
<line x1="786.5" y1="201.6" x2="960" y2="201.6" stroke="#111" stroke-width="1.8" />
<line x1="786.5" y1="219.9" x2="960" y2="219.9" stroke="#111" stroke-width="1.8" />
<line x1="786.5" y1="38.1" x2="786.5" y2="220.8" stroke="#111" stroke-width="1.8" />
<line x1="831.2" y1="38.1" x2="831.2" y2="220.8" stroke="#111" stroke-width="1.8" />
<text x="803.8" y="65.6" font-size="11.3" textLength="7.2" lengthAdjust="spacingAndGlyphs" stroke="#000" stroke-width="0.3">N</text>
<circle cx="811.7" cy="59.8" r="1.45" fill="none" stroke="#000" stroke-width="1.3"/>
<text x="860" y="66" font-size="11.5" textLength="75" lengthAdjust="spacingAndGlyphs" >Наименование</text>
<text x="802.75" y="100.5" font-size="11" textLength="12.2" lengthAdjust="spacingAndGlyphs" >2.1</text>
<text x="834.4" y="100.5" font-size="11" textLength="21" lengthAdjust="spacingAndGlyphs" >Холл</text>
<text x="802.75" y="124" font-size="11" textLength="12.2" lengthAdjust="spacingAndGlyphs" >2.2</text>
<text x="834.4" y="124" font-size="11" textLength="16.6" lengthAdjust="spacingAndGlyphs" >С/У</text>
<text x="802.75" y="147.7" font-size="11" textLength="12.2" lengthAdjust="spacingAndGlyphs" >2.3</text>
<text x="834.4" y="147.7" font-size="11" textLength="35.4" lengthAdjust="spacingAndGlyphs" >Спальня</text>
<text x="802.75" y="171.1" font-size="11" textLength="12.2" lengthAdjust="spacingAndGlyphs" >2.4</text>
<text x="834.4" y="171.1" font-size="11" textLength="35.4" lengthAdjust="spacingAndGlyphs" >Спальня</text>
<text x="802.75" y="194.5" font-size="11" textLength="12.2" lengthAdjust="spacingAndGlyphs" >2.5</text>
<text x="834.4" y="194.5" font-size="11" textLength="35.4" lengthAdjust="spacingAndGlyphs" >Спальня</text>
<text x="786" y="305" font-size="14" textLength="141.7" lengthAdjust="spacingAndGlyphs" >Условное обозначение</text>
<circle cx="804.4" cy="333" r="7.3" fill="none" stroke="#222" stroke-width="0.9"/>
<text x="804.4" y="337" font-size="10" text-anchor="middle" >1</text>
<text x="825.6" y="338.3" font-size="11" textLength="170" lengthAdjust="spacingAndGlyphs" >- Номер помещения по экспликации</text>
<text x="797.5" y="354.6" font-size="11" textLength="151" lengthAdjust="spacingAndGlyphs" >ОК-1 - Маркер окна по проекту</text>
<text x="797.5" y="369.6" font-size="11" textLength="156.25" lengthAdjust="spacingAndGlyphs" >Дв-1 - Маркер двери по проекту</text>
<text x="767.3" y="454" font-size="14" textLength="118.7" lengthAdjust="spacingAndGlyphs" >Данные по кровле.</text>
<text x="765.3" y="478.3" font-size="11" textLength="228.9" lengthAdjust="spacingAndGlyphs" >Площадь кровли  -  42,00 м² (отход на раскрой)</text>
<text x="765.3" y="503.75" font-size="11" textLength="114.5" lengthAdjust="spacingAndGlyphs" >длина карнизов - 70 м.п;</text>
<text x="765.3" y="516.75" font-size="11" textLength="133.5" lengthAdjust="spacingAndGlyphs" >длина примыкания  - 6,0 м.п;</text>
<text x="765.3" y="529.5" font-size="11" textLength="105" lengthAdjust="spacingAndGlyphs" >длина торцов- 7,5 м.п;</text>
<text x="765.3" y="555" font-size="11" textLength="199.6" lengthAdjust="spacingAndGlyphs" >Кровельный материал - Металлочерепица</text>
<text x="765.3" y="568" font-size="11" textLength="83.5" lengthAdjust="spacingAndGlyphs" >Цвет по RAL 8017</text>
<text x="765.3" y="580.75" font-size="11" textLength="219.2" lengthAdjust="spacingAndGlyphs" >Для вентиляции подкровельного пространства</text>
<text x="765.3" y="593.75" font-size="11" textLength="208.7" lengthAdjust="spacingAndGlyphs" >предусмотреть щелевую подшивку карнизов</text>
<text x="765.3" y="606" font-size="11" textLength="192.5" lengthAdjust="spacingAndGlyphs" >Обрешетка выполняется обрезной доской</text>
<text x="765.3" y="619.25" font-size="11" textLength="217.7" lengthAdjust="spacingAndGlyphs" >Кровельный материал укладывается согласно</text>
<text x="765.3" y="631.75" font-size="11" textLength="72" lengthAdjust="spacingAndGlyphs" >производителя.</text>
<text x="-1" y="604" font-size="27" font-weight="bold" textLength="130" lengthAdjust="spacingAndGlyphs" fill="#fff" fill-opacity="0.85" stroke="#e4e4e4" stroke-width="1">Домклик</text>
</svg></body></html>
